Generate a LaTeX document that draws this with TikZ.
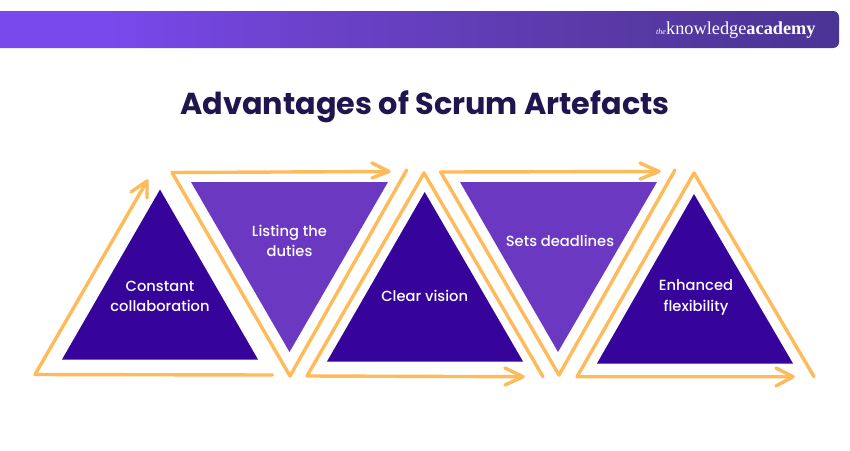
\documentclass[tikz,border=0pt]{standalone}
\usepackage{fontspec}
\setmainfont{Poppins}[BoldFont={Poppins Bold}]
\newfontfamily\labelfont{Poppins Medium}
\newfontfamily\logofont{Liberation Serif}
\definecolor{deep}{HTML}{36049A}
\definecolor{soft}{HTML}{6B38C2}
\definecolor{sketch}{HTML}{FFBA5A}
\definecolor{ink}{HTML}{21154F}
\definecolor{barA}{RGB}{122,73,238}
\definecolor{barB}{RGB}{108,66,204}
\definecolor{barC}{RGB}{90,58,168}
\definecolor{barD}{RGB}{74,52,148}
\pgfdeclarehorizontalshading{barshade}{100bp}{
  color(0bp)=(barA);
  color(31bp)=(barA);
  color(42.5bp)=(barB);
  color(60bp)=(barC);
  color(75bp)=(barD);
  color(100bp)=(barD)}
\tikzset{
  x=1pt,y=-1pt,
  sketchline/.style={draw=sketch,line width=3.4pt,line cap=round,line join=round},
  darktri/.style={fill=deep},
  softtri/.style={fill=soft},
  label/.style={text=white,font=\labelfont\fontsize{14.7}{20.3}\selectfont,align=center,inner sep=0pt},
}
\begin{document}
\begin{tikzpicture}
\useasboundingbox (0,0) rectangle (850,450);
\fill[white] (0,0) rectangle (850,450);
% header
\begin{scope}
\clip[rounded corners=6pt] (-20,11) rectangle (839,48);
\shade[shading=barshade] (0,11) rectangle (839,48);
\end{scope}
\node[inner sep=0pt,text=white,anchor=west] (logo) at (656,30) {\logofont\fontsize{8}{8}\selectfont\itshape the\fontsize{18.3}{18}\selectfont\upshape\hspace{0.2pt}knowledge\bfseries academy};
\node[inner sep=0pt,text=ink,font=\fontsize{30.3}{34}\selectfont\bfseries] (title) at (425,106.5) {Advantages of Scrum Artefacts};
% triangles
\fill[darktri] (160,189.5) -- (258,359.5) -- (62,359.5) -- cycle;
\fill[softtri] (191,182) -- (388,182) -- (289.5,352) -- cycle;
\fill[darktri] (424.7,192) -- (523,361.5) -- (327,361.5) -- cycle;
\fill[softtri] (460,182) -- (657,182) -- (558,352) -- cycle;
\fill[darktri] (694,194) -- (793,363.5) -- (597,363.5) -- cycle;
% sketched outlines
\draw[sketchline] (272.5,375) -- (35,374.5) -- (147,181);
\draw[sketchline] (131,192) -- (147,181) -- (147,198);
\draw[sketchline] (388,171.5) -- (172,172.5) -- (290,376) -- (406.7,170);
\draw[sketchline] (372,163) -- (389,171.5) -- (372,178);
\draw[sketchline] (543,376.7) -- (424,173) -- (307,376) -- (522.7,376.7);
\draw[sketchline] (505,368) -- (523,376.7) -- (505,385);
\draw[sketchline] (659,171.5) -- (440.7,172) -- (559,375) -- (675,170);
\draw[sketchline] (640,163) -- (659,171.5) -- (640,179);
\draw[sketchline] (814,376.7) -- (694,173) -- (577,376.7) -- (792.7,376.7);
\draw[sketchline] (776,368) -- (793,376.7) -- (776,386);
% labels
\node[label] (t1) at (160,296.5) {Constant\\collaboration};
\node[label] (t2) at (289.5,241) {Listing the\\duties};
\node[label] (t3) at (424.7,296) {Clear vision};
\node[label] (t4) at (560,241) {Sets deadlines};
\node[label] (t5) at (696,297.5) {Enhanced\\flexibility};
\end{tikzpicture}
\end{document}
